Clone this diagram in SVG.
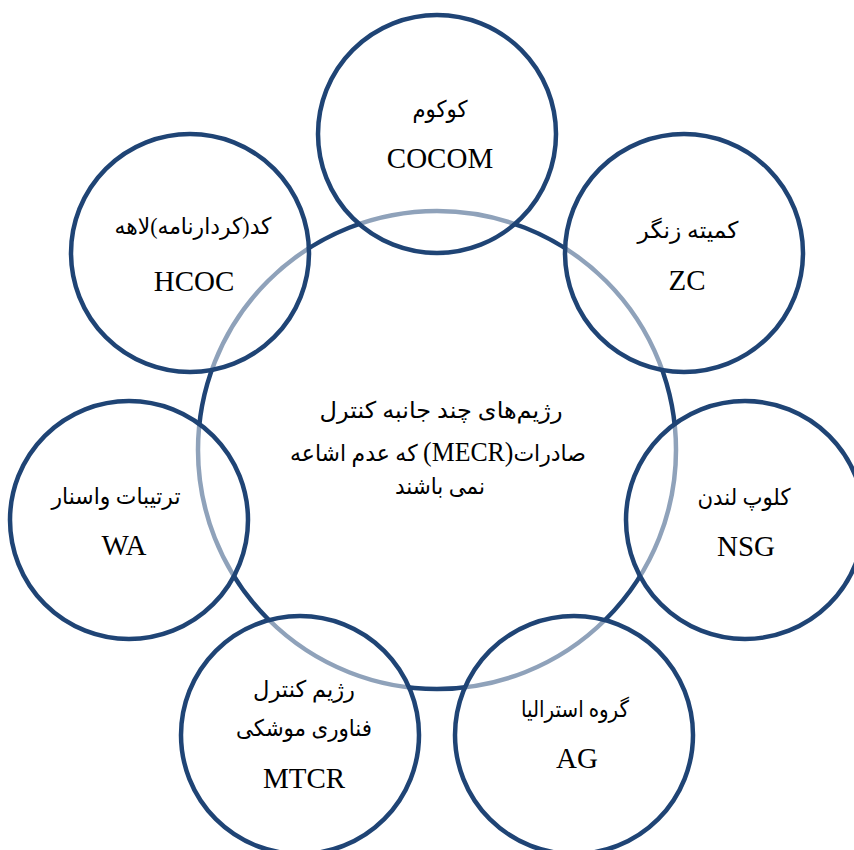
<svg xmlns="http://www.w3.org/2000/svg" width="854" height="850" viewBox="0 0 854 850">
<style>
.center{fill:none;stroke:#1f4475;stroke-width:4.5}
.node{fill:#ffffff;fill-opacity:0.5;stroke:#1f4475;stroke-width:4.5}
.fa{font-family:"Liberation Serif","DejaVu Sans",serif;font-size:23px;fill:#000;text-anchor:middle;direction:rtl}
.en{font-family:"Liberation Serif","Times New Roman",serif;font-size:29px;fill:#000;text-anchor:middle}
.lat{font-family:"Liberation Serif","Times New Roman",serif;font-size:27px}
</style>
<rect width="854" height="850" fill="#ffffff"/>
<g id="connectors"></g>
<g id="hub">
<circle class="center" cx="437" cy="450" r="239"/>
<text class="fa" x="441" y="418" textLength="243" lengthAdjust="spacingAndGlyphs">رژیم‌های چند جانبه کنترل</text>
<text class="fa" x="438" y="461" textLength="296" lengthAdjust="spacingAndGlyphs">صادرات<tspan class="lat">(MECR)</tspan> که عدم اشاعه</text>
<text class="fa" x="440" y="494" textLength="90" lengthAdjust="spacingAndGlyphs">نمی باشند</text>
</g>
<g id="cocom">
<circle class="node" cx="437" cy="134" r="119"/>
<text class="fa" x="440" y="117" textLength="55" lengthAdjust="spacingAndGlyphs">کوکوم</text>
<text class="en" x="440" y="168">COCOM</text>
</g>
<g id="zc">
<circle class="node" cx="684" cy="253" r="119"/>
<text class="fa" x="688" y="238" textLength="101" lengthAdjust="spacingAndGlyphs">کمیته زنگر</text>
<text class="en" x="687" y="290">ZC</text>
</g>
<g id="nsg">
<circle class="node" cx="745" cy="520" r="119"/>
<text class="fa" x="744" y="505" textLength="93" lengthAdjust="spacingAndGlyphs">کلوپ لندن</text>
<text class="en" x="746" y="556">NSG</text>
</g>
<g id="ag">
<circle class="node" cx="574" cy="735" r="119"/>
<text class="fa" x="575" y="717" textLength="108" lengthAdjust="spacingAndGlyphs">گروه استرالیا</text>
<text class="en" x="577" y="768">AG</text>
</g>
<g id="mtcr">
<circle class="node" cx="300" cy="735" r="119"/>
<text class="fa" x="304" y="697" textLength="102" lengthAdjust="spacingAndGlyphs">رژیم کنترل</text>
<text class="fa" x="304" y="736" textLength="136" lengthAdjust="spacingAndGlyphs">فناوری موشکی</text>
<text class="en" x="304" y="788">MTCR</text>
</g>
<g id="wa">
<circle class="node" cx="129" cy="520" r="119"/>
<text class="fa" x="116" y="504" textLength="129" lengthAdjust="spacingAndGlyphs">ترتیبات واسنار</text>
<text class="en" x="124" y="555">WA</text>
</g>
<g id="hcoc">
<circle class="node" cx="190" cy="253" r="119"/>
<text class="fa" x="193" y="234" textLength="157" lengthAdjust="spacingAndGlyphs">کد(کردارنامه)لاهه</text>
<text class="en" x="194" y="291">HCOC</text>
</g>
</svg>
